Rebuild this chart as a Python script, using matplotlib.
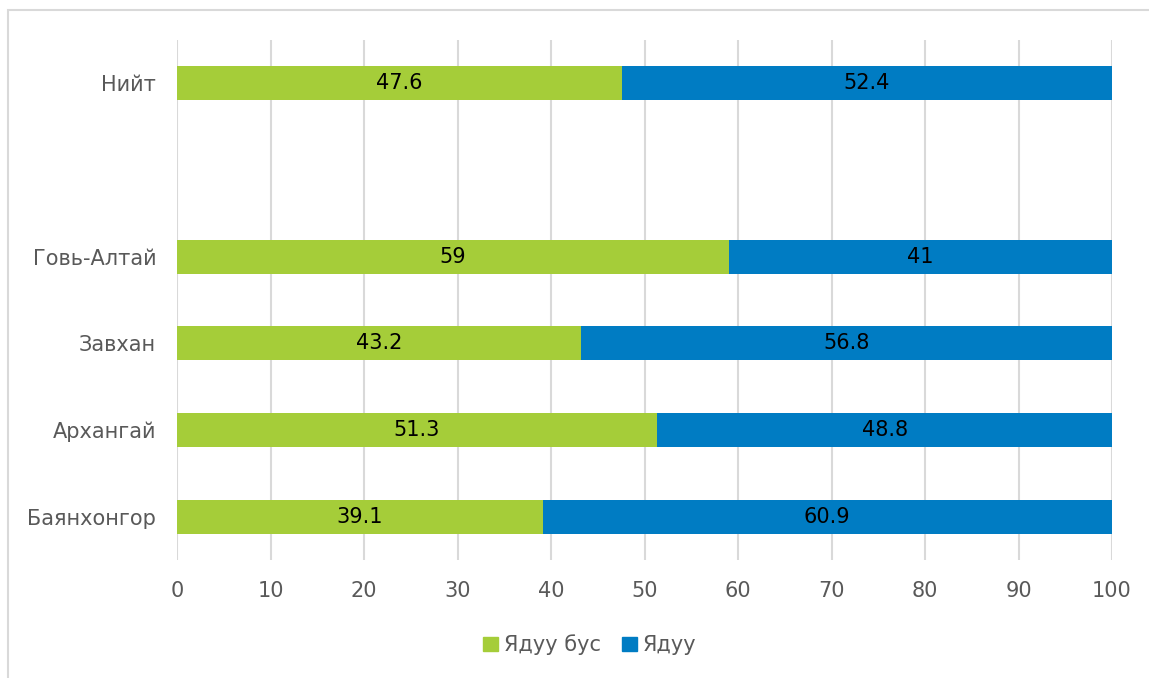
import matplotlib
matplotlib.use("Agg")
import matplotlib.pyplot as plt
from matplotlib.patches import Rectangle, Patch

categories = ["Баянхонгор", "Архангай", "Завхан", "Говь-Алтай", "", "Нийт"]
non_poor = [39.1, 51.3, 43.2, 59.0, None, 47.6]
poor = [60.9, 48.8, 56.8, 41.0, None, 52.4]
non_poor_labels = ["39.1", "51.3", "43.2", "59", "", "47.6"]
poor_labels = ["60.9", "48.8", "56.8", "41", "", "52.4"]
series_names = ["Ядуу бус", "Ядуу"]
xticks = [0, 10, 20, 30, 40, 50, 60, 70, 80, 90, 100]

GREEN = "#a5cd39"
BLUE = "#007cc3"
GRID = "#d9d9d9"
TXT = "#595959"
FS = 15

plt.rcParams['font.family'] = ['DejaVu Sans']

W, H = 1149, 678
fig = plt.figure(figsize=(W / 100, H / 100), dpi=100)
fig.patches.append(Rectangle((8 / W, -0.2), 1.2, 1.2 - 10 / H, transform=fig.transFigure,
                             fill=False, edgecolor=GRID, linewidth=1.5))
ax = fig.add_axes([177 / W, 1 - 560 / H, (1112 - 177) / W, 520 / H])

ys = list(range(len(categories)))
bh = 0.39
for i, y in enumerate(ys):
    if non_poor[i] is None:
        continue
    ax.barh(y, non_poor[i], height=bh, color=GREEN, zorder=3)
    ax.barh(y, poor[i], left=non_poor[i], height=bh, color=BLUE, zorder=3)
    ax.text(non_poor[i] / 2, y, non_poor_labels[i], ha="center", va="center",
            fontsize=FS, color="black", zorder=4)
    ax.text(non_poor[i] + poor[i] / 2, y, poor_labels[i], ha="center", va="center",
            fontsize=FS, color="black", zorder=4)

ax.set_xlim(0, 100)
ax.set_ylim(-0.5, len(categories) - 0.5)
ax.set_xticks(xticks)
ax.set_xticklabels([str(t) for t in xticks], fontsize=FS, color=TXT)
ax.set_yticks(ys)
ax.set_yticklabels(categories, fontsize=FS, color=TXT)
ax.tick_params(axis="both", length=0)
ax.tick_params(axis="x", pad=15)
ax.tick_params(axis="y", pad=15)
ax.grid(axis="x", color=GRID, linewidth=1.5, zorder=0)
for s in ax.spines.values():
    s.set_visible(False)

handles = [Patch(color=GREEN), Patch(color=BLUE)]
fig.legend(handles, series_names, loc="center", bbox_to_anchor=(590 / W, 1 - 645 / H),
           ncol=2, frameon=False, fontsize=FS, handlelength=0.7, handleheight=0.7,
           handletextpad=0.3, columnspacing=1.0, labelcolor=TXT)

fig.savefig("out.png", dpi=100)
